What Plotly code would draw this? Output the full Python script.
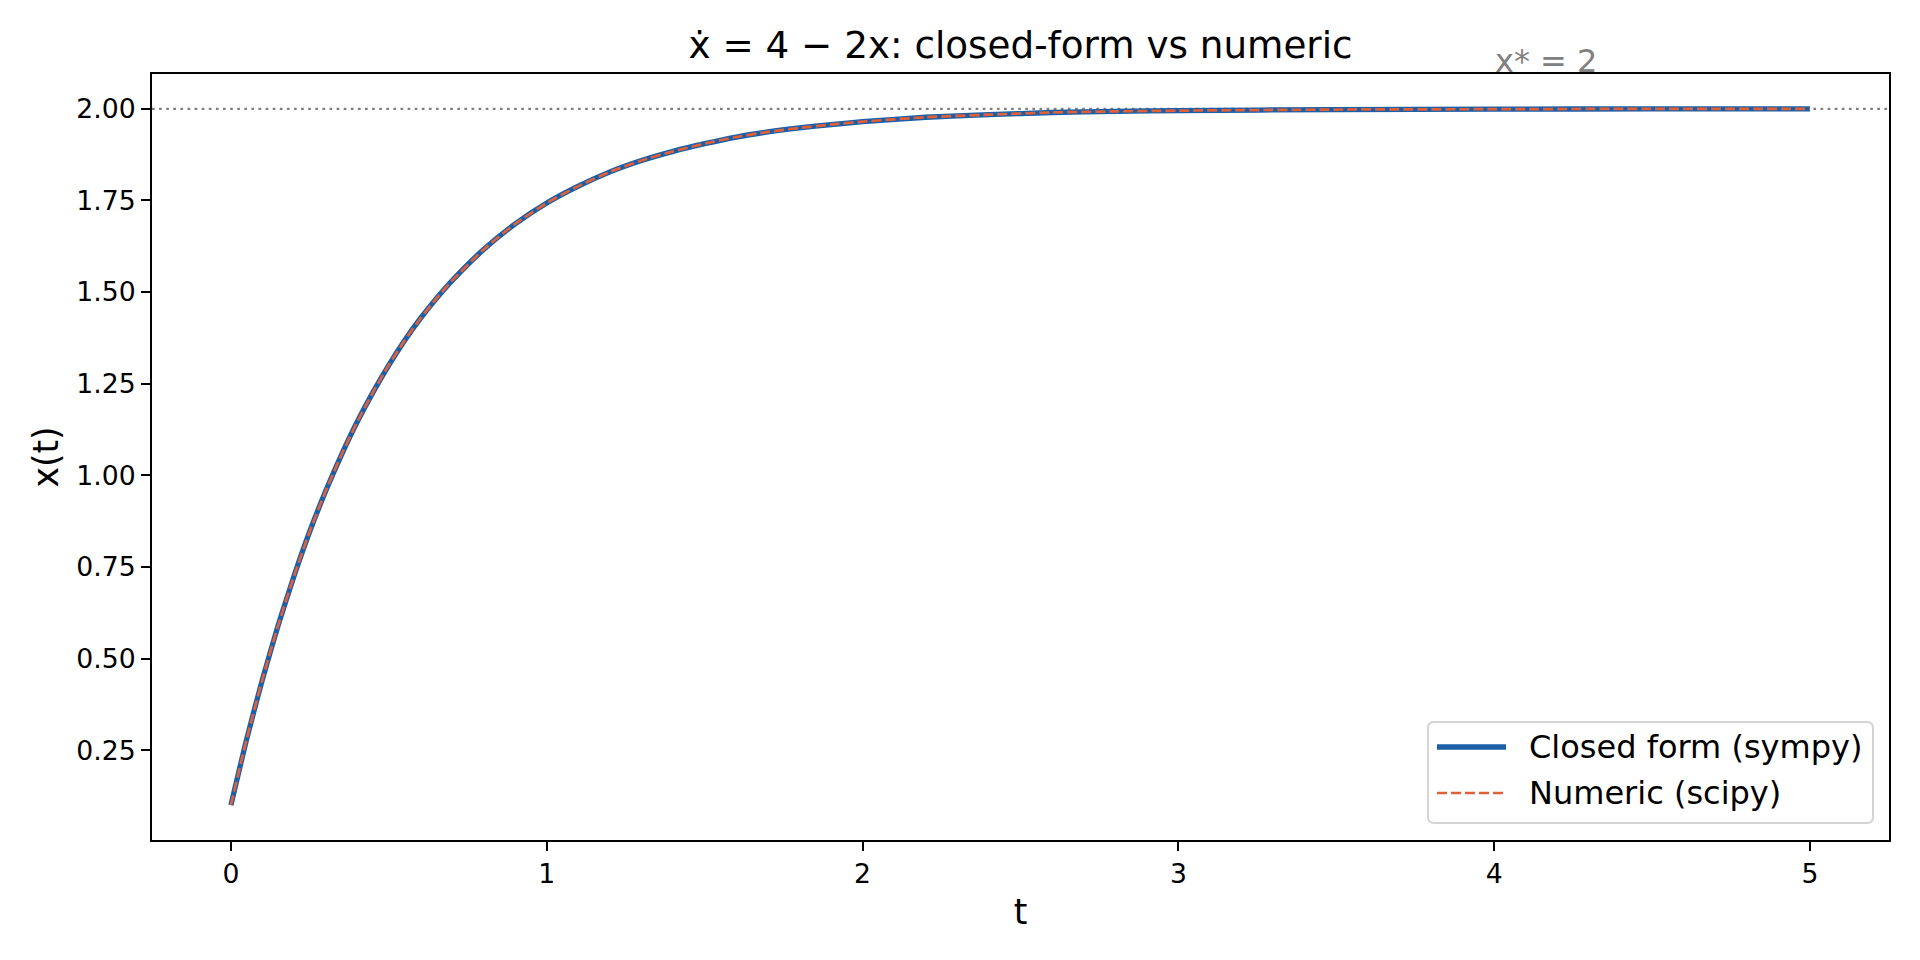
import plotly.graph_objects as go

# Values
t_vals = [0.0, 0.05, 0.1, 0.15, 0.2, 0.25, 0.3, 0.35, 0.4, 0.45, 0.5, 0.55,
          0.6, 0.65, 0.7, 0.8, 0.9, 1.0, 1.1, 1.2, 1.3, 1.4, 1.5, 1.6, 1.7,
          1.8, 1.9, 2.0, 2.2, 2.4, 2.6, 2.8, 3.0, 3.5, 4.0, 4.5, 5.0]
closed_x = [0.100, 0.281, 0.444, 0.592, 0.726, 0.848, 0.957, 1.056, 1.146,
            1.227, 1.301, 1.368, 1.428, 1.482, 1.531, 1.616, 1.686, 1.743,
            1.789, 1.828, 1.859, 1.884, 1.905, 1.923, 1.937, 1.948, 1.957,
            1.965, 1.977, 1.984, 1.990, 1.993, 1.995, 1.998, 1.999, 2.000, 2.000]
numeric_x = [0.100, 0.281, 0.444, 0.592, 0.726, 0.848, 0.957, 1.056, 1.146,
             1.227, 1.301, 1.368, 1.428, 1.482, 1.531, 1.616, 1.686, 1.743,
             1.789, 1.828, 1.859, 1.884, 1.905, 1.923, 1.937, 1.948, 1.957,
             1.965, 1.977, 1.984, 1.990, 1.993, 1.995, 1.998, 1.999, 2.000, 2.000]
x_star = 2.0
label_t = 4.0
label_y = 2.1
x_ticks = [0, 1, 2, 3, 4, 5]
y_ticks = [0.25, 0.50, 0.75, 1.00, 1.25, 1.50, 1.75, 2.00]
y_tick_labels = ["0.25", "0.50", "0.75", "1.00", "1.25", "1.50", "1.75", "2.00"]
series_names = ["Closed form (sympy)", "Numeric (scipy)"]

FONT = "DejaVu Sans"
BLUE = "#1a5fa8"
ORANGE = "#e0603a"
GRAY = "#808080"

W, H = 1920, 960
OFF = 8  # page body margin
ML, MR, MT, MB = 152 - OFF, W - (1889 - OFF), 74 - OFF, H - (840 - OFF)
PW, PH = W - ML - MR, H - MT - MB
X_RANGE = [-0.25, 5.25]
Y_RANGE = [0.005, 2.095]


def px(xp):  # page x -> paper
    return (xp - OFF - ML) / PW


def py(yp):  # page y -> paper
    return (H - MB - (yp - OFF)) / PH


fig = go.Figure()
fig.add_trace(go.Scatter(
    x=t_vals, y=closed_x, mode="lines", name=series_names[0], showlegend=False,
    line=dict(color=BLUE, width=5.3, shape="spline", smoothing=0.6),
))
fig.add_trace(go.Scatter(
    x=t_vals, y=numeric_x, mode="lines", name=series_names[1], showlegend=False,
    line=dict(color=ORANGE, width=2.7, dash="10px,4px", shape="spline", smoothing=0.6),
))

fig.add_shape(type="line", xref="paper", x0=0, x1=1, yref="y", y0=x_star, y1=x_star,
              line=dict(color=GRAY, width=2.2, dash="2.7px,4.4px"), layer="below")

fig.add_annotation(x=label_t, xref="x",
                   y=(label_y - Y_RANGE[0]) / (Y_RANGE[1] - Y_RANGE[0]), yref="paper",
                   text="x* = %g" % x_star, showarrow=False,
                   xanchor="left", yanchor="bottom", yshift=-9, borderpad=0,
                   font=dict(family=FONT, size=32, color=GRAY))

# legend (matplotlib style, lower right)
x0, x1, y0, y1, r = 1428, 1873, 722, 823, 6
path = (f"M {px(x0 + r)} {py(y0)} L {px(x1 - r)} {py(y0)} "
        f"Q {px(x1)} {py(y0)} {px(x1)} {py(y0 + r)} L {px(x1)} {py(y1 - r)} "
        f"Q {px(x1)} {py(y1)} {px(x1 - r)} {py(y1)} L {px(x0 + r)} {py(y1)} "
        f"Q {px(x0)} {py(y1)} {px(x0)} {py(y1 - r)} L {px(x0)} {py(y0 + r)} "
        f"Q {px(x0)} {py(y0)} {px(x0 + r)} {py(y0)} Z")
fig.add_shape(type="path", path=path, xref="paper", yref="paper",
              fillcolor="rgba(255,255,255,0.8)", line=dict(color="#d4d4d4", width=2))
rows = [(747, BLUE, 5.3, "solid"), (793, ORANGE, 2.7, "10px,4px")]
for name, (yrow, col, wd, dash) in zip(series_names, rows):
    fig.add_shape(type="line", xref="paper", yref="paper",
                  x0=px(1437), x1=px(1506), y0=py(yrow), y1=py(yrow),
                  line=dict(color=col, width=wd, dash=dash))
    fig.add_annotation(x=px(1528), y=py(yrow), xref="paper", yref="paper",
                       text=name, showarrow=False, xanchor="left", yanchor="middle",
                       borderpad=0, font=dict(family=FONT, size=32, color="black"))

axis_common = dict(
    showline=True, linecolor="black", linewidth=2.1, mirror=True,
    ticks="outside", ticklen=9, tickwidth=2, tickcolor="black",
    showgrid=False, zeroline=False, automargin=False,
    tickfont=dict(family=FONT, size=26.7, color="black"),
)

fig.update_layout(
    width=W, height=H,
    paper_bgcolor="white", plot_bgcolor="white",
    margin=dict(l=ML, r=MR, t=MT, b=MB),
    font=dict(family=FONT, color="black"),
    title=dict(text="ẋ = 4 − 2x: closed-form vs numeric",
               x=(ML + PW / 2) / W, xanchor="center",
               y=1 - (45 - OFF) / H, yanchor="middle", yref="container",
               font=dict(family=FONT, size=37.3, color="black")),
    xaxis=dict(range=X_RANGE, tickvals=x_ticks,
               title=dict(text="t", font=dict(family=FONT, size=34.7), standoff=12),
               **axis_common),
    yaxis=dict(range=Y_RANGE, tickvals=y_ticks, ticktext=y_tick_labels,
               title=dict(text="x(t)", font=dict(family=FONT, size=34.7), standoff=7),
               **axis_common),
    showlegend=False,
)

fig.write_html("out.html")
